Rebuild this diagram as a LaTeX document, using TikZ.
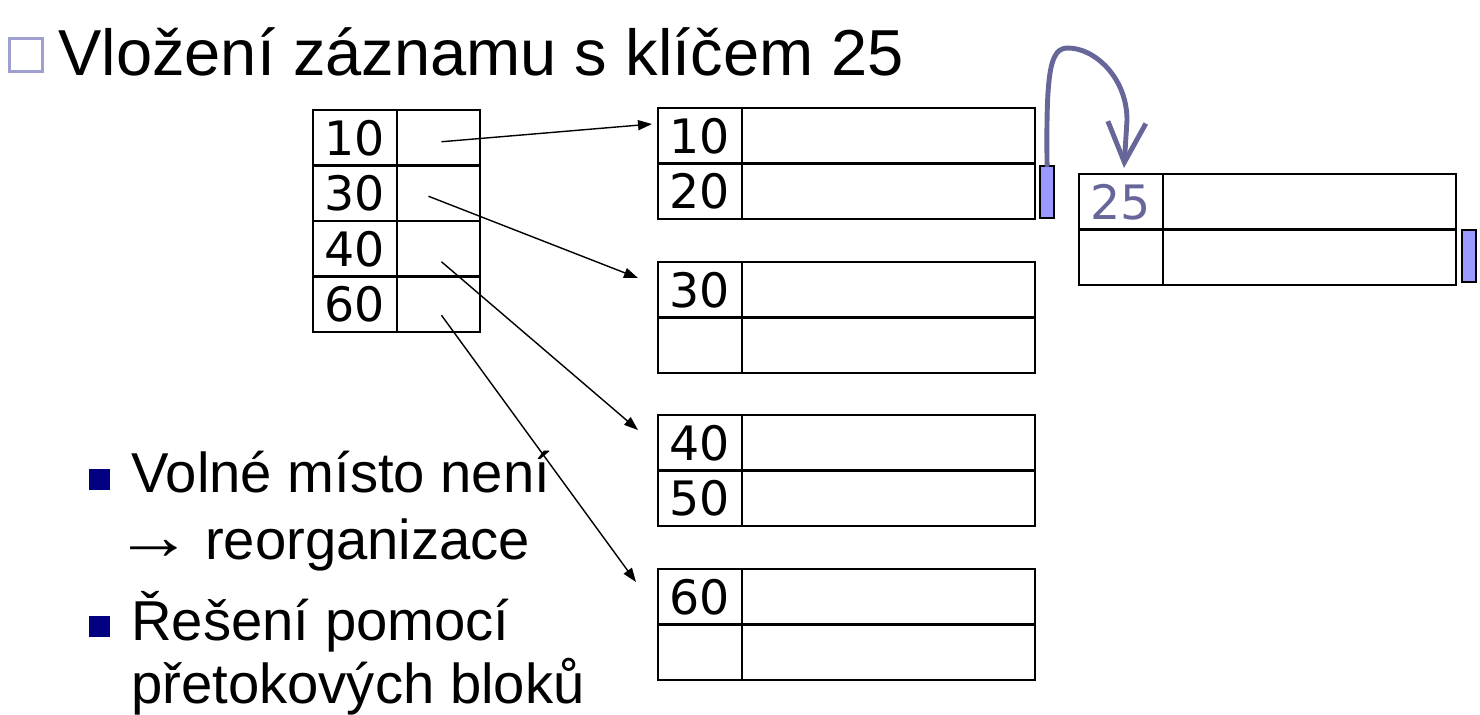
\documentclass[tikz,border=0pt]{standalone}
\usepackage{fontspec}
\setmainfont{Liberation Sans}
\newfontfamily\cisla{DejaVu Sans}
\usetikzlibrary{calc,positioning,arrows.meta}
\definecolor{fialova}{RGB}{102,102,153}
\definecolor{svetlefialova}{RGB}{160,160,208}
\definecolor{ukazatel}{RGB}{153,153,255}
\definecolor{tmavemodra}{RGB}{0,0,128}
\tikzset{
	cell/.style={draw, line width=1.2pt, inner sep=0pt, outer sep=0pt, minimum height=1.11cm, font=\cisla\fontsize{27}{27}\selectfont},
	keycell/.style={cell, minimum width=1.68cm},
	ptrcell/.style={cell, minimum width=1.66cm},
	datacell/.style={cell, minimum width=5.86cm},
	pretok/.style={draw, line width=1.2pt, fill=ukazatel, inner sep=0pt, minimum width=0.28cm, minimum height=1.04cm},
	sipka/.style={line width=0.8pt, -{Triangle[length=0.28cm,width=0.2cm]}},
	odrazka/.style={fill=tmavemodra, inner sep=0pt, minimum size=0.42cm},
	bodtext/.style={anchor=base west, inner sep=0pt, font=\fontsize{32}{32}\selectfont}
}
% blok se dvema zaznamy: jmeno, levy horni roh, klic1, klic2
\newcommand{\blok}[4]{
	\node[keycell, anchor=north west] (#1a) at #2 {#3};
	\node[datacell, right=0pt of #1a] (#1ad) {};
	\node[keycell, below=0pt of #1a] (#1b) {#4};
	\node[datacell, right=0pt of #1b] (#1bd) {};
}

\begin{document}
\begin{tikzpicture}[x={(0.02cm,0)}, y={(0,-0.02cm)}]
	\useasboundingbox (0,0) rectangle (1480,714);
	% nadpis
	\node[draw=svetlefialova, line width=2.2pt, minimum size=0.66cm, inner sep=0pt] (ctverec) at (26,55) {};
	\node[anchor=base west, inner sep=0pt, font=\fontsize{37}{37}\selectfont] (nadpis) at (58,75) {Vložení záznamu s klíčem 25};
	% index
	\foreach \k [count=\i] in {10,30,40,60} {
		\node[keycell, anchor=north west] (k\i) at (313,{110+55.5*(\i-1)}) {\k};
		\node[ptrcell, right=0pt of k\i] (p\i) {};
	}
	% datove bloky
	\blok{b1}{(658,108)}{10}{20}
	\blok{b2}{(658,262)}{30}{}
	\blok{b3}{(658,415)}{40}{50}
	\blok{b4}{(658,569)}{60}{}
	\blok{ov}{(1079,174)}{\textcolor{fialova}{25}}{}
	% ukazatele na pretokove bloky
	\node[pretok, anchor=north west] (u1) at (1039,165) {};
	\node[pretok, anchor=north west] (u2) at (1461,229) {};
	% sipky z indexu
	\draw[sipka] ($(p1.center)+(3,4)$) -- ($(b1a.north west)+(-6,16)$);
	\draw[sipka] ($(p2.center)+(-10,3)$) -- ($(b2a.north west)+(-20,16)$);
	\draw[sipka] ($(p3.center)+(3,13)$) -- ($(b3a.north west)+(-20,15)$);
	\draw[sipka] ($(p4.center)+(3,11)$) -- ($(b4a.north west)+(-22,13)$);
	% vlozeni do pretoku
	\coordinate (cil) at ($(ova.north)+(3,-6)$);
	\draw[fialova, line width=2.8pt, line cap=round, -{Straight Barb[length=0.8cm,width=0.76cm]}]
		(u1.north) .. controls (1046,70) and (1050,48) .. (1068,48)
		.. controls (1095,48) and (1127,78) .. (1127,120) -- (cil);
	% odrazky
	\node[odrazka] (o1) at (99.5,479) {};
	\node[odrazka] (o2) at (99.5,626.5) {};
	\node[bodtext] (t1) at (131,492) {Volné místo není};
	\node[bodtext] (t2) at (114,559) {\scalebox{1.4}[1.2]{→}\hspace{-2pt} reorganizace};
	\node[bodtext] (t3) at (131,640) {Řešení pomocí};
	\node[bodtext] (t4) at (131,703) {přetokových bloků};
\end{tikzpicture}
\end{document}
